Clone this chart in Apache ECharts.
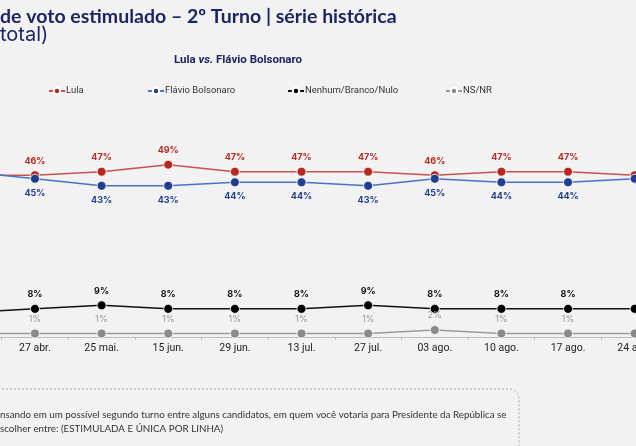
<!DOCTYPE html>
<html>
<head>
<meta charset="utf-8">
<script src="https://cdn.jsdelivr.net/npm/echarts@6/dist/echarts.min.js"></script>
<style>
html, body { margin: 0; padding: 0; background: #f2f2f2; overflow: hidden; }
body { width: 636px; height: 446px; position: relative; }
/* the reference is a crop: the chart runs past both edges */
#chart { position: absolute; left: -65px; top: 0; width: 733px; height: 446px; }
</style>
</head>
<body>
<div id="chart"></div>
<script>
// categories (first one sits off the left edge of the crop)
var dates = ['13 abr.', '27 abr.', '25 mai.', '15 jun.', '29 jun.', '13 jul.', '27 jul.', '03 ago.', '10 ago.', '17 ago.', '24 ago.'];

var names = ['Lula', 'Flávio Bolsonaro', 'Nenhum/Branco/Nulo', 'NS/NR'];
var lula = [46, 46, 47, 49, 47, 47, 47, 46, 47, 47, 46];
var flavio = [47, 45, 43, 43, 44, 44, 43, 45, 44, 44, 45];
var nenhum = [7, 8, 9, 8, 8, 8, 9, 8, 8, 8, 8];
var nsnr = [1, 1, 1, 1, 1, 1, 1, 2, 1, 1, 1];

var myChart = echarts.init(document.getElementById('chart'));

var font = 'Inter, "Noto Sans", sans-serif';
var narrow = 'Roboto, "Liberation Sans", Arial, sans-serif';
var navy = '#1c2663';
var dx = 65; // offset of the visible area inside the chart
var legendX = [48, 147, 287, 445];

function mkSeries(name, data, lineColor, dotColor, labColor, pos, labWeight) {
	return {
		name : name,
		type : 'line',
		data : data,
		symbol : 'circle',
		symbolSize : 9,
		showAllSymbol : true,
		lineStyle : { color : lineColor, width : 1.5 },
		itemStyle : { color : dotColor, borderColor : '#ffffff', borderWidth : 0.8 },
		label : {
			show : true,
			position : pos,
			distance : 5,
			formatter : function(p) {
				return p.dataIndex == 0 || p.dataIndex == data.length - 1 ? '' : p.value + '%';
			},
			color : labColor,
			fontFamily : font,
			fontSize : 9,
			fontWeight : labWeight
		},
		emphasis : { disabled : true }
	};
}

// one legend per item so each sits where the reference has it
var legends = [];
for (var i = 0; i < names.length; i++) {
	legends.push({
		left : legendX[i] + dx,
		top : 86,
		padding : 0,
		itemWidth : 16,
		itemHeight : 8,
		itemGap : 0,
		textStyle : { fontSize : 9.5, color : '#333333', fontFamily : narrow, padding : [0, 0, 0, -4] },
		data : [names[i]]
	});
}

var option = {
	backgroundColor : '#f2f2f2',
	animation : false,
	textStyle : { fontFamily : font },
	legend : legends,
	grid : {
		left : 0,
		right : 0,
		top : 126,
		bottom : 109
	},
	xAxis : {
		type : 'category',
		boundaryGap : true,
		data : dates,
		axisLine : { lineStyle : { color : '#bdbdbd', width : 1 } },
		axisTick : { show : true, length : 3, lineStyle : { color : '#bdbdbd' } },
		axisLabel : { color : '#222222', fontSize : 10.5, margin : 6, fontFamily : narrow }
	},
	yAxis : {
		type : 'value',
		min : 0,
		max : 60,
		show : false
	},
	series : [
		mkSeries(names[0], lula, '#c9514b', '#b72822', '#b72822', 'top', 'bold'),
		mkSeries(names[1], flavio, '#4a72c4', '#1f3e91', '#1f3e91', 'bottom', 'bold'),
		mkSeries(names[2], nenhum, '#111111', '#000000', '#111111', 'top', 'bold'),
		mkSeries(names[3], nsnr, '#9a9a9a', '#8a8a8a', '#9a9a9a', 'top', 'normal')
	],
	graphic : [
		{
			type : 'text', left : dx, top : 7,
			style : { text : 'de voto estimulado – 2º Turno | série histórica', fill : navy, font : 'bold 19.5px Lato, ' + font }
		},
		{
			type : 'text', left : dx, top : 25,
			style : { text : 'total)', fill : navy, font : '20px ' + font }
		},
		{
			type : 'text', x : 238 + dx, y : 54,
			style : { text : '{b|Lula }{i|vs.}{b| Flávio Bolsonaro}', align : 'center',
				rich : {
					b : { fill : navy, font : 'bold 11.5px ' + narrow },
					i : { fill : navy, font : 'italic bold 11.5px ' + narrow }
				}
			}
		},
		{
			type : 'rect', shape : { x : dx - 20, y : 389, width : 539, height : 100, r : 10 },
			style : { fill : 'none', stroke : '#a6abbd', lineWidth : 1, lineDash : [2, 2] }
		},
		{
			type : 'text', left : dx, top : 408,
			style : { text : 'nsando em um possível segundo turno entre alguns candidatos, em quem você votaria para Presidente da República se\nscolher entre: (ESTIMULADA E ÚNICA POR LINHA)',
				fill : '#333333', font : '9.8px Lato, ' + font, lineHeight : 14 }
		}
	]
};

myChart.setOption(option);
</script>
</body>
</html>
